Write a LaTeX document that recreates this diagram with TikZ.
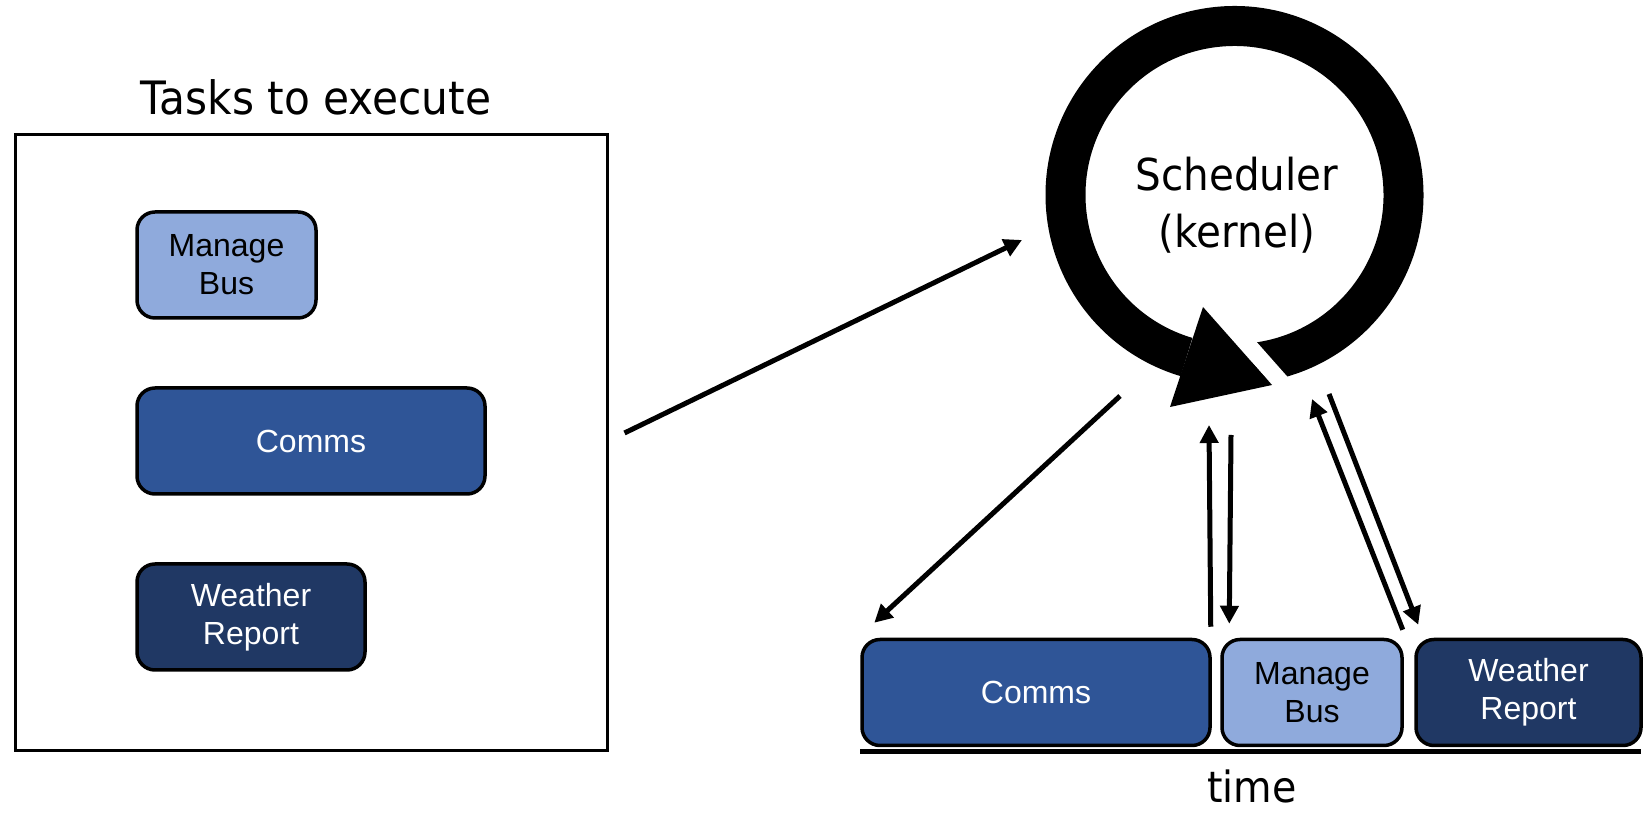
\documentclass[tikz,border=0pt]{standalone}
\usepackage{fontspec}
\usetikzlibrary{arrows.meta}

\newfontfamily\boxfont{Liberation Sans}
\newfontfamily\headfont[FakeStretch=0.92]{DejaVu Sans}

\definecolor{busblue}{HTML}{8FAADC}
\definecolor{commsblue}{HTML}{2F5597}
\definecolor{wxblue}{HTML}{203864}

\tikzset{
  task/.style={draw, line width=3.5pt, rounded corners=18pt, minimum height=106pt,
    inner sep=0pt, align=center, font=\boxfont\fontsize{32}{38}\selectfont},
  busbox/.style={task, fill=busblue, text=black},
  commsbox/.style={task, fill=commsblue, text=white},
  wxbox/.style={task, fill=wxblue, text=white},
  link/.style={->, line width=5pt},
}

\begin{document}
\begin{tikzpicture}[>={Triangle[length=18pt,width=18pt]}, x=1pt, y=1pt]
\useasboundingbox (0,0) rectangle (1643,813);

% pool of tasks
\node (pool) at (311,370) [draw, line width=3pt, minimum width=592pt, minimum height=616pt] {};
\node (title) at ([xshift=5pt,yshift=19pt]pool.north) [anchor=base, font=\headfont\fontsize{46}{55}\selectfont] {Tasks to execute};

\node (mb1) at (226.5,548) [busbox, minimum width=179pt] {Manage\\Bus};
\node (cm1) at (311,372) [commsbox, minimum width=348pt] {Comms};
\node (wr1) at (251,196) [wxbox, minimum width=228pt] {Weather\\Report};

% scheduler loop
\coordinate (core) at (1234.5,618);
\draw[line width=40pt] (core) ++(-84:169) arc[start angle=-84, end angle=253.5, radius=169];
\draw[white, line width=17pt] (1209.4,511.6) -- (1298.3,411.1);
\fill (1203,506) -- (1272,428) -- (1170,406) -- cycle;
\node (sched) at (1237,608) [align=center, inner sep=0pt, font=\headfont\fontsize{44}{57}\selectfont] {Scheduler\\(kernel)};

% time line
\node (cm2) at (1036,120.5) [commsbox, minimum width=348pt] {Comms};
\node (mb2) at (1312,120.5) [busbox, minimum width=180pt] {Manage\\Bus};
\node (wr2) at (1528.5,120.5) [wxbox, minimum width=225pt] {Weather\\Report};
\draw[line width=5pt] ([yshift=-4pt]cm2.south west) -- ++(781,0);
\node (time) at (1252,10) [anchor=base, inner sep=0pt, font=\headfont\fontsize{43}{52}\selectfont] {time};

% dispatch arrows
\draw[link] ([xshift=16pt,yshift=10pt]pool.east) -- ([shift={(-212.5,-45)}]core);
\draw[link] ([shift={(-114.5,-201)}]core) -- ([shift={(14,15)}]cm2.north west);
\draw[link] ([shift={(-1,11)}]cm2.north east) -- ([shift={(-25.5,-230)}]core);
\draw[link] ([shift={(-3.5,-240)}]core) -- ([shift={(9,14)}]mb2.north west);
\draw[link] ([shift={(-1,8)}]mb2.north east) -- ([shift={(77.5,-204)}]core);
\draw[link] ([shift={(94.5,-199)}]core) -- ([shift={(4,13)}]wr2.north west);

\end{tikzpicture}
\end{document}
